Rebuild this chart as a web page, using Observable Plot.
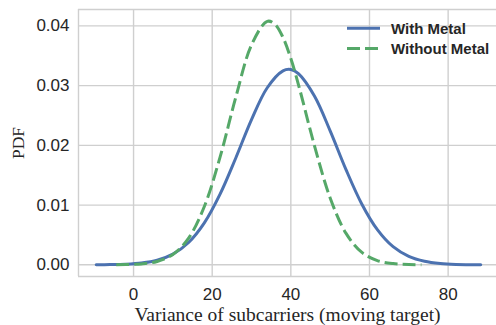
<!DOCTYPE html>
<html>
<head>
<meta charset="utf-8">
<script src="https://cdn.jsdelivr.net/npm/d3@7"></script>
<script src="https://cdn.jsdelivr.net/npm/@observablehq/plot@0.6"></script>
<style>
  html, body { margin: 0; padding: 0; background: #fff; }
  #chart { position: relative; width: 496px; height: 325px; }
</style>
</head>
<body>
<div id="chart"></div>
<script>
// Series names
const seriesNames = ["With Metal", "Without Metal"];
const seriesColors = ["#4c72b0", "#55a868"];

// "With Metal" curve
const withX = [-9.5, -6, -2, 2, 6, 10, 14, 18, 22, 26, 30, 34, 38, 40, 42, 46, 50, 54, 58, 62, 66, 70, 74, 78, 82, 88.3];
const withY = [0.00001, 0.00003, 0.0001, 0.0003, 0.00077, 0.00179, 0.00374, 0.00702, 0.01183, 0.01789, 0.02431, 0.02965, 0.03248, 0.0327, 0.03196, 0.02825, 0.02242, 0.01598, 0.01023, 0.00589, 0.00303, 0.00141, 0.00059, 0.00022, 0.00007, 0.00001];

// "Without Metal" curve
const withoutX = [-4.4, -2, 2, 6, 10, 14, 18, 22, 26, 30, 34, 36, 38, 40, 42, 46, 50, 54, 58, 62, 66, 70, 73.2];
const withoutY = [0.00001, 0.00004, 0.00015, 0.00056, 0.00173, 0.00447, 0.00977, 0.01802, 0.02804, 0.03681, 0.04077, 0.04025, 0.03808, 0.03454, 0.03001, 0.01996, 0.0112, 0.0053, 0.00211, 0.00071, 0.0002, 0.00005, 0.00001];

// Axis ticks and labels
const xTicks = [0, 20, 40, 60, 80];
const yTicks = [0, 0.01, 0.02, 0.03, 0.04];
const xLabel = "Variance of subcarriers (moving target)";
const yLabel = "PDF";

const xDomain = [-14, 92.3];
const yDomain = [-0.00196, 0.04275];

const withRows = withX.map((x, i) => ({x, y: withY[i]}));
const withoutRows = withoutX.map((x, i) => ({x, y: withoutY[i]}));

const gridColor = "#cfcfcf";
const textColor = "#262626";
const sans = "'Liberation Sans', Arial, sans-serif";
const serif = "'Liberation Serif', 'Times New Roman', serif";

const plot = Plot.plot({
  width: 496,
  height: 325,
  marginLeft: 78,
  marginRight: 0,
  marginTop: 9,
  marginBottom: 49,
  style: {fontFamily: sans, fontSize: "17px", color: textColor, background: "#fff", overflow: "visible"},
  x: {domain: xDomain},
  y: {domain: yDomain},
  marks: [
    Plot.gridX(xTicks, {stroke: gridColor, strokeOpacity: 1, strokeWidth: 1.4}),
    Plot.gridY(yTicks, {stroke: gridColor, strokeOpacity: 1, strokeWidth: 1.4}),
    Plot.ruleX([xDomain[0]], {stroke: gridColor, strokeWidth: 1.4}),
    Plot.ruleY(yDomain, {stroke: gridColor, strokeWidth: 1.4}),
    Plot.axisX({ticks: xTicks, tickSize: 0, tickPadding: 11, label: null, fontSize: 17, fill: textColor}),
    Plot.axisY({ticks: yTicks, tickSize: 0, tickPadding: 9, label: null, tickFormat: d3.format(".2f"), fontSize: 17, fill: textColor}),
    Plot.line(withRows, {x: "x", y: "y", stroke: seriesColors[0], strokeWidth: 3, curve: "catmull-rom"}),
    Plot.line(withoutRows, {x: "x", y: "y", stroke: seriesColors[1], strokeWidth: 3, strokeDasharray: "13,5", strokeLinecap: "butt", curve: "catmull-rom"}),
    Plot.text([xLabel], {frameAnchor: "bottom", dy: 38, textAnchor: "middle", lineAnchor: "middle", fontFamily: serif, fontSize: 19.5, fill: textColor}),
    Plot.text([yLabel], {frameAnchor: "left", dx: -60, rotate: -90, textAnchor: "middle", lineAnchor: "middle", fontFamily: serif, fontSize: 17.5, fill: textColor})
  ]
});

document.getElementById("chart").appendChild(plot);

// Legend (top right, inside plot area)
const svg = d3.select(plot);
const lg = svg.append("g").attr("class", "legend");
seriesNames.forEach((name, i) => {
  const y = 28.3 + i * 20.3;
  lg.append("line")
    .attr("x1", 347).attr("x2", 380).attr("y1", y).attr("y2", y)
    .attr("stroke", seriesColors[i]).attr("stroke-width", 3)
    .attr("stroke-dasharray", i === 1 ? "13,5" : null);
  lg.append("text")
    .attr("x", 391).attr("y", y).attr("dy", "0.36em")
    .attr("text-anchor", "start")
    .attr("font-family", sans)
    .attr("font-weight", "bold").attr("font-size", 15)
    .attr("fill", textColor)
    .text(name);
});
</script>
</body>
</html>
